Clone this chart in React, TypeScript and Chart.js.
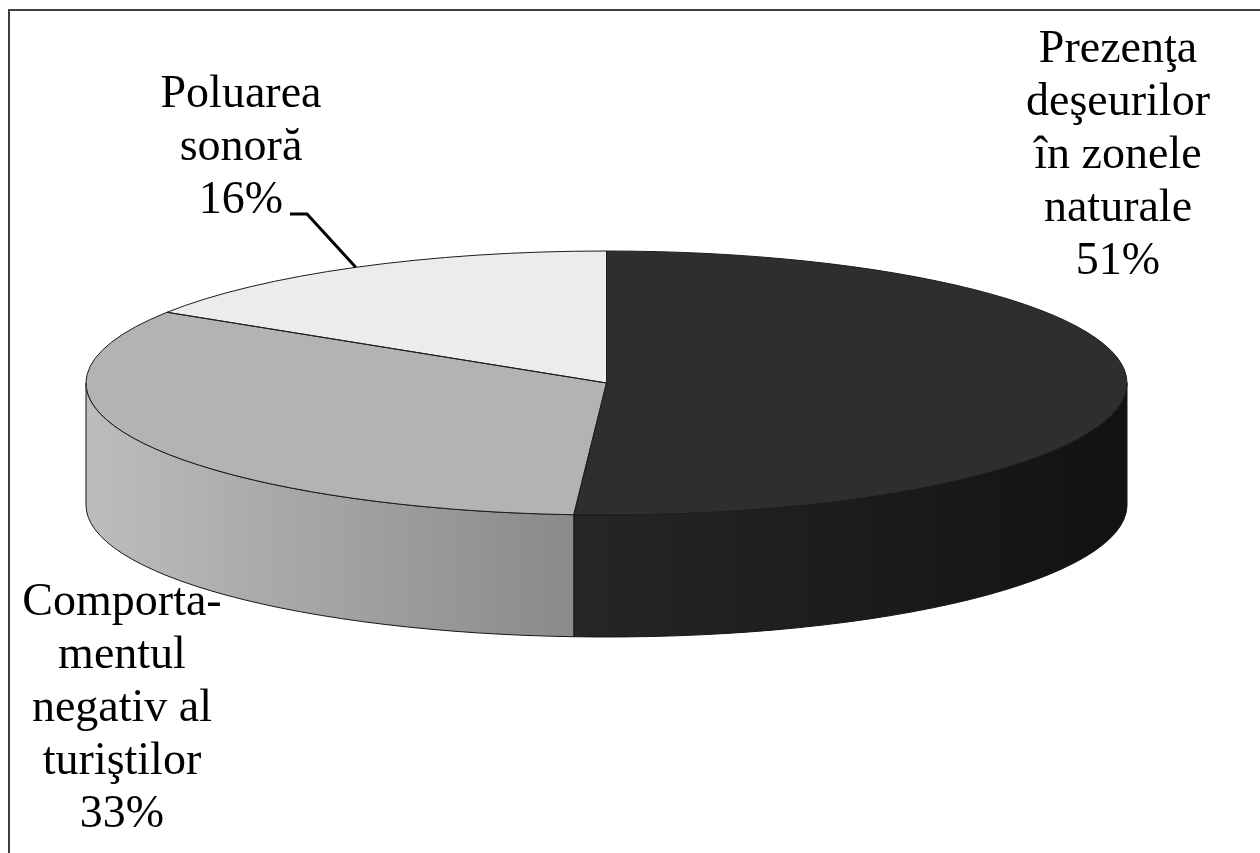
import { useEffect, useRef } from 'react';
import { Chart, registerables } from 'chart.js';

Chart.register(...registerables);

// Survey shares (percent) and their category names
const categories = [
  'Prezenţa deşeurilor în zonele naturale',
  'Comportamentul negativ al turiştilor',
  'Poluarea sonoră',
];
const shares = [51, 33, 16];

// Wrapped label text drawn above each percentage
const labelLines = [
  ['Prezenţa', 'deşeurilor', 'în zonele', 'naturale'],
  ['Comporta-', 'mentul', 'negativ al', 'turiştilor'],
  ['Poluarea', 'sonoră'],
];

// Top-face colours and side-wall gradient (left -> right) per slice
const topColors = ['#2e2e2e', '#b3b3b3', '#ececec'];
const sideColors = [
  ['#262626', '#121212'],
  ['#bdbdbd', '#8a8a8a'],
  ['#dedede', '#c6c6c6'],
];

const W = 1260;
const H = 853;
const DEPTH = 122; // height of the extruded wall
const FONT = '46px "Liberation Serif", "Times New Roman", serif';
const LINE_H = 53;
// first-line baseline centre of each label block
const labelAnchors = [
  { x: 1118, y: 62 },
  { x: 122, y: 615 },
  { x: 241, y: 107 },
];

const pie3d = {
  id: 'pie3d',
  beforeDatasetsDraw(chart: any) {
    const { ctx, chartArea } = chart;
    const arcs = chart.getDatasetMeta(0).data;
    const cx = (chartArea.left + chartArea.right) / 2;
    const cy = (chartArea.top + chartArea.bottom) / 2;
    const rx = chartArea.width / 2;
    const ry = chartArea.height / 2;

    // front walls of the disc
    arcs.forEach((arc: any, i: number) => {
      const a0 = Math.max(arc.startAngle, 0);
      const a1 = Math.min(arc.endAngle, Math.PI);
      if (a1 <= a0) return;
      ctx.save();
      ctx.beginPath();
      ctx.ellipse(cx, cy, rx, ry, 0, a0, a1);
      ctx.lineTo(cx + rx * Math.cos(a1), cy + ry * Math.sin(a1) + DEPTH);
      ctx.ellipse(cx, cy + DEPTH, rx, ry, 0, a1, a0, true);
      ctx.closePath();
      const xl = cx + rx * Math.cos(a1);
      const xr = cx + rx * Math.cos(a0);
      const g = ctx.createLinearGradient(xl, 0, xr, 0);
      g.addColorStop(0, sideColors[i][0]);
      g.addColorStop(1, sideColors[i][1]);
      ctx.fillStyle = g;
      ctx.fill();
      ctx.strokeStyle = '#151515';
      ctx.lineWidth = 1;
      ctx.stroke();
      ctx.restore();
    });

    // squash the library's round pie into the ellipse of the top face
    const a = arcs[0];
    ctx.save();
    ctx.translate(cx, cy);
    ctx.scale(rx / a.outerRadius, ry / a.outerRadius);
    ctx.translate(-a.x, -a.y);
  },
  afterDatasetsDraw(chart: any) {
    const { ctx, chartArea } = chart;
    ctx.restore();
    const arcs = chart.getDatasetMeta(0).data;
    const cx = (chartArea.left + chartArea.right) / 2;
    const cy = (chartArea.top + chartArea.bottom) / 2;
    const rx = chartArea.width / 2;
    const ry = chartArea.height / 2;

    // slice outlines on the top face
    ctx.save();
    ctx.strokeStyle = '#1c1c1c';
    ctx.lineWidth = 1;
    arcs.forEach((arc: any) => {
      ctx.beginPath();
      ctx.moveTo(cx, cy);
      ctx.ellipse(cx, cy, rx, ry, 0, arc.startAngle, arc.endAngle);
      ctx.closePath();
      ctx.stroke();
    });
    ctx.restore();

    // labels
    ctx.save();
    ctx.font = FONT;
    ctx.fillStyle = '#000';
    ctx.textAlign = 'center';
    ctx.textBaseline = 'alphabetic';
    const values = chart.data.datasets[0].data as number[];
    labelLines.forEach((lines, i) => {
      const all = [...lines, `${values[i]}%`];
      all.forEach((t, k) => {
        ctx.fillText(t, labelAnchors[i].x, labelAnchors[i].y + k * LINE_H);
      });
    });

    // leader line for the small slice
    const s = arcs[2];
    const mid = (s.startAngle + s.endAngle) / 2;
    const px = cx + rx * Math.cos(mid);
    const py = cy + ry * Math.sin(mid);
    const ly = labelAnchors[2].y + 2 * LINE_H + 1;
    ctx.beginPath();
    ctx.moveTo(290, ly);
    ctx.lineTo(307, ly);
    ctx.lineTo(px, py);
    ctx.strokeStyle = '#000';
    ctx.lineWidth = 3;
    ctx.lineJoin = 'miter';
    ctx.stroke();

    // outer frame
    ctx.beginPath();
    ctx.moveTo(9, H);
    ctx.lineTo(9, 10);
    ctx.lineTo(W, 10);
    ctx.strokeStyle = '#3f3f3f';
    ctx.lineWidth = 2;
    ctx.stroke();
    ctx.restore();
  },
};

export default function App() {
  const ref = useRef<HTMLCanvasElement>(null);

  useEffect(() => {
    if (!ref.current) return;
    const chart = new Chart(ref.current, {
      type: 'pie',
      data: {
        labels: categories,
        datasets: [
          {
            data: shares,
            backgroundColor: topColors,
            borderWidth: 0,
            hoverOffset: 0,
            offset: 0,
            clip: false,
          } as any,
        ],
      },
      options: {
        responsive: false,
        animation: false,
        events: [],
        layout: { padding: { left: 86, right: 133, top: 251, bottom: 338 } },
        plugins: {
          legend: { display: false },
          tooltip: { enabled: false },
        },
      },
      plugins: [pie3d],
    });
    return () => chart.destroy();
  }, []);

  return (
    <div style={{ position: 'fixed', left: 0, top: 0, width: W, height: H, background: '#fff' }}>
      <canvas ref={ref} width={W} height={H} style={{ display: 'block' }} />
    </div>
  );
}
